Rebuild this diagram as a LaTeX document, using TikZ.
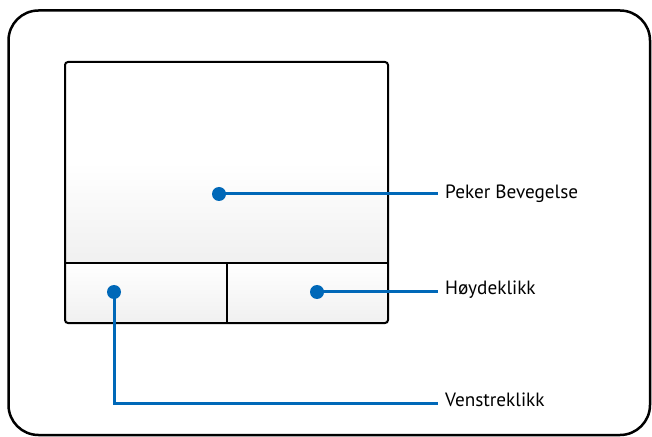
\documentclass[tikz,border=0pt]{standalone}
\usepackage{fontspec}
\setmainfont{PT Sans}
\definecolor{tpblue}{HTML}{0068B8}
\definecolor{padgray}{HTML}{F0F0F0}
\begin{document}
\begin{tikzpicture}[x=1bp,y=-1bp,
  frame/.style={draw=black,line width=2.5bp},
  pad/.style={draw=black,line width=2bp},
  dot/.style={circle,fill=tpblue,inner sep=0pt,minimum size=14bp},
  lead/.style={draw=tpblue,line width=3bp},
  lbl/.style={anchor=west,inner sep=0pt,text height=1.5ex,text depth=0pt,font=\fontsize{19.3}{22}\selectfont}]
\useasboundingbox (0,0) rectangle (652,437);
\draw[frame,rounded corners=30bp] (8.5,10.5) rectangle (650,435);
% pad surface
\shade[top color=white,bottom color=padgray,middle color=white] (65,62) rectangle (388,263);
\shade[top color=white,bottom color=padgray] (65,263) rectangle (388,323);
\draw[pad,rounded corners=3bp] (65,62) rectangle (388,323);
\draw[pad] (65,263) -- (388,263);
\draw[pad] (227,263) -- (227,323);
% dots
\node[dot] (d1) at (219,194) {};
\node[dot] (d2) at (317,292) {};
\node[dot] (d3) at (114,292) {};
% labels
\node[lbl] (l1) at (445,195) {Peker Bevegelse};
\node[lbl] (l2) at (445,291) {Høydeklikk};
\node[lbl] (l3) at (445,403) {Venstreklikk};
\coordinate (e1) at (438,194);
\coordinate (e2) at (438,292);
\coordinate (e3) at (438,403);
\coordinate (c3) at (114,403);
\draw[lead] (d1.center) -- (e1);
\draw[lead] (d2.center) -- (e2);
\draw[lead] (d3.center) -- (c3) -- (e3);
\end{tikzpicture}
\end{document}
